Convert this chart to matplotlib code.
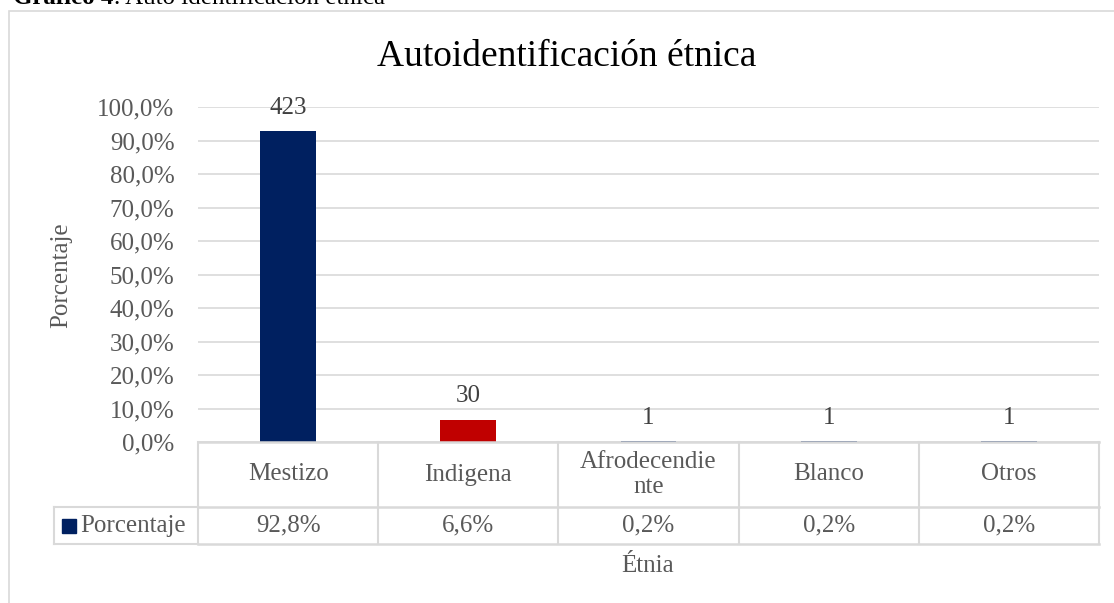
import matplotlib
matplotlib.use("Agg")
import matplotlib.pyplot as plt
from matplotlib.patches import Rectangle

# datos
categorias = ["Mestizo", "Indigena", "Afrodecendie\nnte", "Blanco", "Otros"]
porcentajes = [0.928, 0.066, 0.002, 0.002, 0.002]
frecuencias = [423, 30, 1, 1, 1]
colores = ["#002060", "#C00000", "#002060", "#002060", "#002060"]
serie = "Porcentaje"

plt.rcParams["font.family"] = ["Liberation Serif", "DejaVu Serif"]

W, H = 1114, 603
fig = plt.figure(figsize=(W / 100, H / 100), dpi=100)

# marco exterior del gráfico
fig.patches.append(Rectangle((9 / W, -0.2), 1.2, 1.2 - 11 / H, fill=False,
                             edgecolor="#d9d9d9", linewidth=1.2,
                             transform=fig.transFigure))

# leyenda del documento (cortada arriba, como en el original)
t1 = fig.text(13 / W, 1 - 4.5 / H, "Gráfico 4", fontsize=18, fontweight="bold",
              va="baseline", ha="left")
fig.canvas.draw()
bb = t1.get_window_extent()
fig.text(bb.x1 / W, 1 - 4.5 / H, ". Auto identificación étnica", fontsize=18,
         va="baseline", ha="left")

ax = fig.add_axes([198 / W, (H - 442) / H, 901 / W, 335 / H])
x = range(len(categorias))
barras = ax.bar(x, porcentajes, width=0.31, color=colores, zorder=3)

for b, n in zip(barras, frecuencias):
    ax.annotate(str(n), (b.get_x() + b.get_width() / 2, b.get_height()),
                xytext=(0, 9), textcoords="offset points", ha="center",
                va="bottom", fontsize=18, color="#404040")

ax.set_xlim(-0.5, len(categorias) - 0.5)
ax.set_ylim(0, 1)
ax.set_yticks([i / 10 for i in range(11)])
ax.set_yticklabels([f"{i * 10:.1f}%".replace(".", ",") for i in range(11)])
ax.tick_params(axis="y", length=0, pad=17, labelsize=18, labelcolor="#595959")
ax.set_xticks([])
ax.grid(axis="y", color="#d9d9d9", linewidth=1.2, zorder=0)
for s in ax.spines.values():
    s.set_visible(False)

# tabla de datos
tr = ax.get_xaxis_transform()
gris = "#d9d9d9"
y1 = -(507 - 442) / 335
y2 = -(544 - 442) / 335
for yy in [0, y1, y2]:
    ax.plot([-0.5, len(categorias) - 0.5], [yy, yy], transform=tr, color=gris,
            lw=1.8, clip_on=False, zorder=4)
for i in range(len(categorias) + 1):
    ax.plot([i - 0.5, i - 0.5], [0, y2], transform=tr, color=gris, lw=1.5,
            clip_on=False, zorder=4)
for i, (c, p) in enumerate(zip(categorias, porcentajes)):
    ax.text(i, y1 / 2, c, transform=tr, ha="center", va="center", fontsize=18,
            color="#595959", linespacing=1.2)
    ax.text(i, (y1 + y2) / 2, f"{p * 100:.1f}%".replace(".", ","), transform=tr,
            ha="center", va="center", fontsize=18, color="#595959")

# celda de la leyenda
fig.lines.append(plt.Line2D([54 / W, 198 / W], [(H - 507) / H] * 2,
                            transform=fig.transFigure, color=gris, lw=1.5))
fig.lines.append(plt.Line2D([54 / W, 198 / W], [(H - 544) / H] * 2,
                            transform=fig.transFigure, color=gris, lw=1.5))
fig.lines.append(plt.Line2D([54 / W, 54 / W], [(H - 507) / H, (H - 544) / H],
                            transform=fig.transFigure, color=gris, lw=1.5))
fig.patches.append(Rectangle((62 / W, (H - 533) / H), 14 / W, 14 / H,
                             color=colores[0], transform=fig.transFigure))
fig.text(80 / W, (H - 526) / H, serie, fontsize=18, color="#595959",
         va="center", ha="left")

fig.text(567 / W, (H - 66) / H, "Autoidentificación étnica", fontsize=27,
         ha="center", va="baseline", color="#000000")
fig.text(61 / W, (H - 275) / H, "Porcentaje", rotation=90, fontsize=18,
         color="#595959", ha="center", va="center")
fig.text(648 / W, (H - 566) / H, "Étnia", fontsize=18, color="#595959",
         ha="center", va="center")

fig.savefig("out.png", dpi=100)
